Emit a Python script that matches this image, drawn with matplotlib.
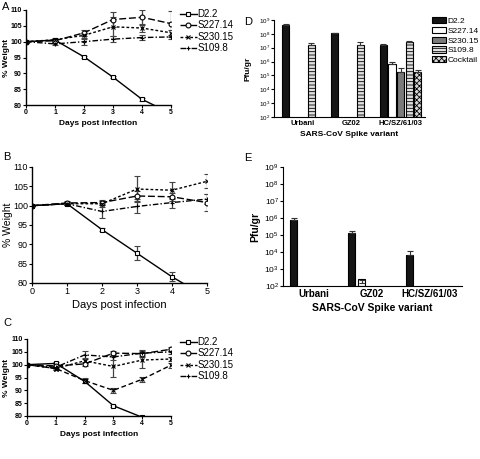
import numpy as np
import matplotlib
matplotlib.use("Agg")
import matplotlib.pyplot as plt
from matplotlib.ticker import NullLocator, FixedLocator

plt.rcParams['font.family'] = ['Liberation Sans', 'DejaVu Sans']
plt.rcParams['mathtext.default'] = 'regular'
plt.rcParams['hatch.linewidth'] = 0.6

# weight curves (% of day 0 weight)
days = [0, 1, 2, 3, 4, 5]
series_names = ['D2.2', 'S227.14', 'S230.15', 'S109.8']

a_d22 = [100, 100.5, 95.2, 88.8, 81.8, 77.3]
a_d22_err = [0.3, 0.4, 0.4, 0.4, 0.4, 0.0]
a_s227 = [100, 100.3, 102.8, 107.0, 107.7, 105.7]
a_s227_err = [0.3, 0.5, 1.0, 2.4, 2.4, 4.1]
a_s230 = [100, 100.6, 102.0, 104.7, 104.3, 102.8]
a_s230_err = [0.3, 0.5, 0.8, 3.0, 1.2, 1.0]
a_s109 = [100, 99.3, 100.0, 100.8, 101.3, 101.5]
a_s109_err = [0.3, 0.5, 1.0, 0.9, 0.8, 0.6]

b_d22 = [100, 100.5, 93.8, 87.7, 81.6, 76.3]
b_d22_err = [0.2, 0.4, 0.3, 1.8, 1.2, 0.0]
b_s227 = [100, 100.7, 100.8, 102.5, 102.3, 100.8]
b_s227_err = [0.2, 0.4, 0.6, 1.2, 1.0, 2.3]
b_s230 = [100, 100.5, 100.5, 104.3, 104.0, 106.3]
b_s230_err = [0.2, 0.4, 0.8, 3.3, 2.2, 1.8]
b_s109 = [100, 100.5, 98.5, 99.8, 100.8, 101.7]
b_s109_err = [0.2, 0.4, 1.7, 1.8, 1.3, 1.2]

c_d22 = [100, 100.5, 93.5, 84.0, 79.5, np.nan]
c_d22_err = [0.3, 0.5, 0.8, 0.3, 0.0, 0.0]
c_s227 = [100, 99.5, 100.3, 104.5, 104.3, 106.0]
c_s227_err = [0.3, 0.8, 0.8, 0.8, 1.2, 0.8]
c_s230 = [100, 98.5, 101.5, 99.3, 101.8, 102.2]
c_s230_err = [0.3, 0.5, 1.0, 4.2, 3.2, 0.8]
c_s109 = [100, 99.0, 103.8, 103.0, 104.5, 105.0]
c_s109_err = [0.3, 0.6, 1.5, 1.3, 1.2, 1.0]
c_low = [100, 98.5, 93.8, 90.0, 94.3, 99.8]
c_low_err = [0.3, 0.6, 1.0, 1.0, 1.0, 1.0]

# viral titers (Pfu/gr)
variants = ['Urbani', 'GZ02', 'HC/SZ/61/03']
bar_names = ['D2.2', 'S227.14', 'S230.15', 'S109.8', 'Cocktail']
d_vals = [[4.4e8, 1.1e8, 1.6e7],
          [np.nan, np.nan, 6.5e5],
          [np.nan, np.nan, 1.9e5],
          [1.6e7, 1.6e7, 2.5e7],
          [np.nan, np.nan, 1.9e5]]
d_tops = [[4.8e8, 1.2e8, 1.9e7],
          [np.nan, np.nan, 1.0e6],
          [np.nan, np.nan, 3.3e5],
          [2.1e7, 2.7e7, 2.9e7],
          [np.nan, np.nan, 2.6e5]]
e_vals = [[7.6e5, 1.25e5, 6.6e3],
          [np.nan, 1.6e2, np.nan],
          [np.nan, np.nan, np.nan],
          [np.nan, np.nan, np.nan],
          [np.nan, np.nan, np.nan]]
e_tops = [[1.05e6, 1.7e5, 1.15e4],
          [np.nan, 2.4e2, np.nan],
          [np.nan, np.nan, np.nan],
          [np.nan, np.nan, np.nan],
          [np.nan, np.nan, np.nan]]

W, H = 480, 459
fig = plt.figure(figsize=(W / 100, H / 100), dpi=100)


def box(x0, y0, x1, y1):
    return [x0 / W, 1 - y1 / H, (x1 - x0) / W, (y1 - y0) / H]


styles = [dict(ls='-', marker='s', mfc='white'),
          dict(ls=(0, (5, 2)), marker='o', mfc='white'),
          dict(ls=(0, (2, 1.5)), marker='x', mfc='black'),
          dict(ls=(0, (4, 1.5, 1, 1.5)), marker='+', mfc='black')]


def weight_panel(rect, curves, fs_tick, fs_lab, weight, ylab_x, extra=None):
    ax = fig.add_axes(rect)
    handles = []
    for (vals, err), st, name in zip(curves, styles, series_names):
        c = ax.errorbar(days, vals, yerr=err, color='black', ecolor='#444444',
                        lw=1.0, elinewidth=0.9, capsize=2, capthick=0.9,
                        ms=3.5, mew=0.8, mec='black', label=name, **st)
        handles.append(c[0])
    if extra is not None:
        vals, err = extra
        ax.errorbar(days, vals, yerr=err, color='black', ecolor='#444444',
                    lw=1.0, elinewidth=0.9, capsize=2, capthick=0.9,
                    ls=(0, (3.5, 2)), marker='x', ms=3.5, mew=0.8,
                    label='_nolegend_')
    ax.set_xlim(0, 5)
    ax.set_ylim(80, 110)
    ax.set_xticks(days)
    ax.set_yticks([80, 85, 90, 95, 100, 105, 110])
    for s in ['top', 'right']:
        ax.spines[s].set_visible(False)
    for s in ['left', 'bottom']:
        ax.spines[s].set_linewidth(1.0)
    ax.tick_params(labelsize=fs_tick, length=2, width=0.8, pad=1)
    for t in ax.get_xticklabels() + ax.get_yticklabels():
        t.set_fontweight(weight)
    ax.set_xlabel('Days post infection', fontsize=fs_lab, fontweight=weight, labelpad=3)
    ax.set_ylabel('% Weight', fontsize=fs_lab, fontweight=weight)
    ax.yaxis.set_label_coords(ylab_x, 0.5)
    return ax, handles


def weight_legend(ax, handles, top_px):
    ax.legend(handles, series_names, loc='upper left',
              bbox_to_anchor=(180 / W, 1 - top_px / H),
              bbox_transform=fig.transFigure, frameon=False, fontsize=7,
              handlelength=1.7, handletextpad=0.1, labelspacing=0.15,
              borderpad=0, borderaxespad=0)


axA, hA = weight_panel(box(26, 10, 171, 105),
                       [(a_d22, a_d22_err), (a_s227, a_s227_err),
                        (a_s230, a_s230_err), (a_s109, a_s109_err)],
                       5, 6, 'bold', -0.11)
weight_legend(axA, hA, 9)

axB, hB = weight_panel(box(32, 167, 207, 283),
                       [(b_d22, b_d22_err), (b_s227, b_s227_err),
                        (b_s230, b_s230_err), (b_s109, b_s109_err)],
                       6.5, 7.5, 'normal', -0.11)
axB.xaxis.label.set_fontsize(8)

axC, hC = weight_panel(box(27, 339, 171, 416),
                       [(c_d22, c_d22_err), (c_s227, c_s227_err),
                        (c_s230, c_s230_err), (c_s109, c_s109_err)],
                       5, 6, 'bold', -0.115, extra=(c_low, c_low_err))
weight_legend(axC, hC, 337)

bar_styles = [dict(color='#151515', hatch=None),
              dict(color='white', hatch=None),
              dict(color='#7a7a7a', hatch=None),
              dict(color='#e0e0e0', hatch='-----'),
              dict(color='#d8d8d8', hatch='xxxxxx')]


def titer_panel(rect, vals, tops, slot, width, xlim, fs_tick, fs_lab, fs_y, ylab_x):
    ax = fig.add_axes(rect)
    ax.set_yscale('log')
    x = np.arange(len(variants))
    for i, (v, tp, st) in enumerate(zip(vals, tops, bar_styles)):
        v = np.array(v, dtype=float)
        tp = np.array(tp, dtype=float)
        ok = ~np.isnan(v)
        if not ok.any():
            continue
        xi = x[ok] + (i - 2) * slot
        ax.bar(xi, v[ok], width=width, bottom=1e2, color=st['color'],
               hatch=st['hatch'], edgecolor='black', linewidth=0.8,
               label=bar_names[i])
        ax.errorbar(xi, v[ok], yerr=[np.zeros(ok.sum()), tp[ok] - v[ok]],
                    fmt='none', ecolor='#333333', elinewidth=0.8, capsize=2,
                    capthick=0.8)
    ax.set_ylim(1e2, 1e9)
    ax.set_xlim(*xlim)
    ax.yaxis.set_major_locator(FixedLocator([10.0 ** k for k in range(2, 10)]))
    ax.yaxis.set_minor_locator(NullLocator())
    ax.set_xticks(x)
    ax.set_xticklabels(variants)
    for s in ['top', 'right']:
        ax.spines[s].set_visible(False)
    ax.tick_params(axis='y', labelsize=fs_y, length=2, width=0.8, pad=1)
    ax.tick_params(axis='x', labelsize=fs_tick, length=0, pad=2)
    for t in ax.get_xticklabels():
        t.set_fontweight('bold')
    ax.set_xlabel('SARS-CoV Spike variant', fontsize=fs_lab, fontweight='bold', labelpad=3)
    ax.set_ylabel('Pfu/gr', fontsize=fs_lab, fontweight='bold')
    ax.yaxis.set_label_coords(ylab_x, 0.5)
    return ax


axD = titer_panel(box(274, 20, 425, 117), d_vals, d_tops, 0.175, 0.145,
                  (-0.59, 2.5), 5.5, 6, 4.5, -0.15)
axD.legend(loc='upper left', bbox_to_anchor=(432 / W, 1 - 17 / H),
           bbox_transform=fig.transFigure, frameon=False, fontsize=6,
           handlelength=1.7, handleheight=0.8, handletextpad=0.15,
           labelspacing=0.2, borderpad=0, borderaxespad=0)

axE = titer_panel(box(283, 167, 462, 286), e_vals, e_tops, 0.172, 0.127,
                  (-0.53, 2.56), 7, 7.5, 6, -0.125)

for lab, px, py in [('A', 2, 7), ('B', 3, 157), ('C', 3, 323),
                    ('D', 244, 22), ('E', 244, 158)]:
    fig.text(px / W, 1 - py / H, lab, fontsize=8, ha='left', va='center')

fig.savefig('out.png', dpi=100)
